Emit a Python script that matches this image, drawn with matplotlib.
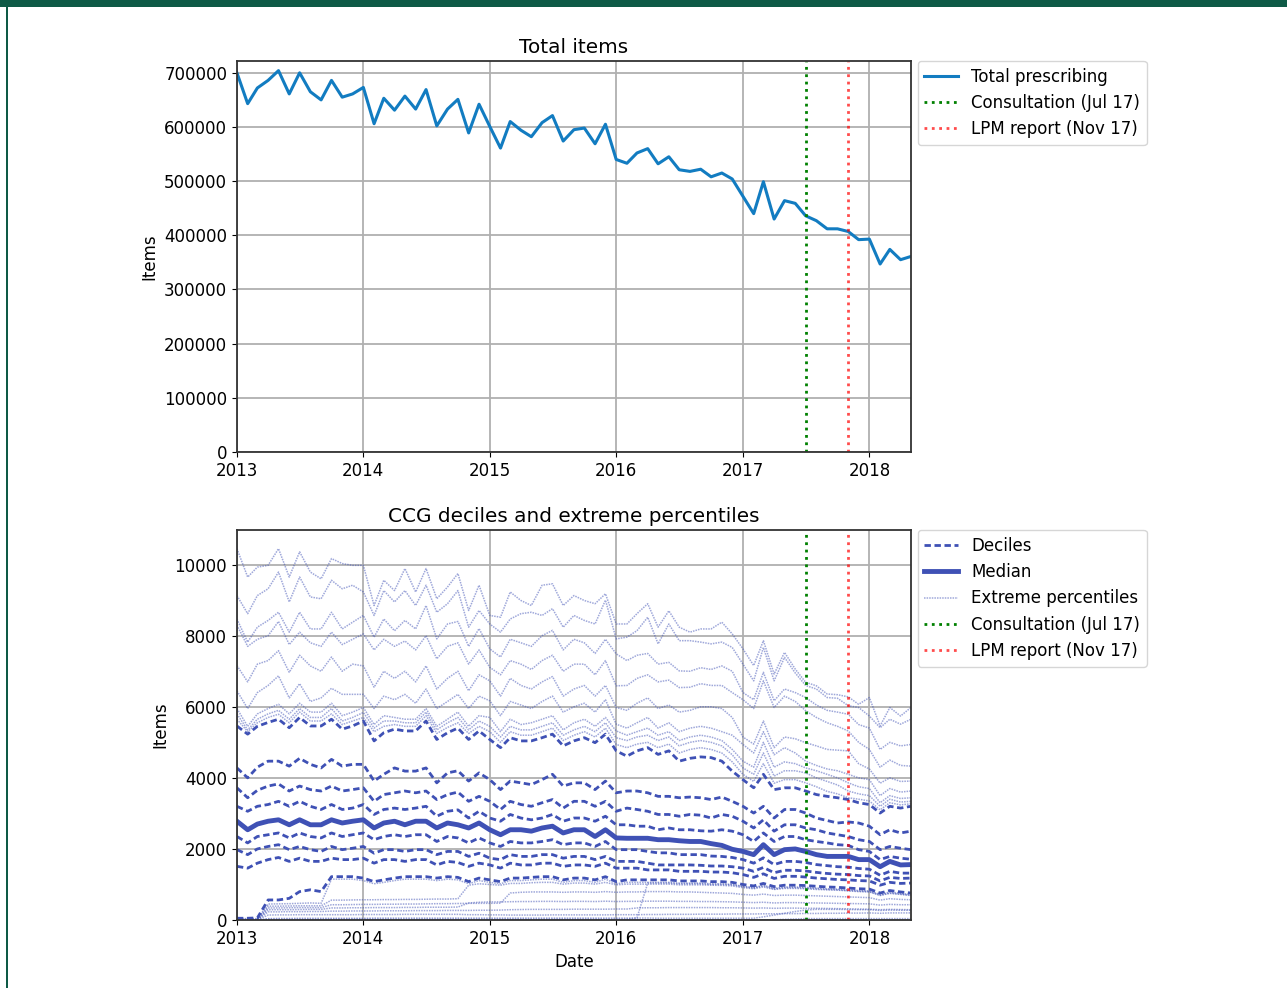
import matplotlib
matplotlib.use('Agg')
import matplotlib.pyplot as plt
import matplotlib.dates as mdates
from matplotlib.patches import Rectangle
from matplotlib.ticker import MultipleLocator
import pandas as pd

# monthly data, Jan 2013 - May 2018
months = pd.date_range('2013-01-01', periods=65, freq='MS')
consultation = pd.Timestamp('2017-07-01')
lpm_report = pd.Timestamp('2017-11-01')

total_items = [
    700000, 643000, 672000, 686000, 704000, 661000, 700000, 665000, 650000, 686000, 655000, 661000,
    673000, 606000, 653000, 631000, 657000, 633000, 669000, 602000, 633000, 651000, 589000, 642000,
    601000, 561000, 610000, 594000, 582000, 608000, 621000, 574000, 595000, 598000, 569000, 605000,
    540000, 533000, 552000, 560000, 532000, 545000, 521000, 518000, 522000, 508000, 515000, 504000,
    472000, 440000, 499000, 430000, 464000, 459000, 436000, 427000, 412000, 412000, 407000, 392000,
    393000, 347000, 374000, 355000, 361000]

# CCG percentiles (items per CCG)
p1 = [
    0, 0, 0, 0, 0, 0, 0, 0, 0, 0, 0, 0,
    0, 0, 0, 0, 0, 0, 0, 0, 0, 0, 0, 0,
    0, 0, 0, 0, 0, 0, 0, 0, 0, 0, 0, 0,
    0, 0, 0, 0, 0, 0, 0, 0, 0, 0, 0, 0,
    0, 0, 0, 10, 20, 30, 40, 40, 40, 40, 40, 40,
    40, 40, 40, 40, 40]
p2 = [
    0, 0, 0, 20, 20, 20, 20, 20, 20, 25, 25, 25,
    25, 25, 25, 25, 25, 25, 25, 25, 25, 25, 25, 25,
    25, 25, 25, 25, 25, 25, 25, 25, 25, 25, 25, 25,
    25, 25, 60, 1040, 1040, 1040, 1020, 1020, 1020, 1000, 1000, 990,
    940, 900, 960, 870, 910, 910, 900, 880, 860, 850, 830, 810,
    800, 700, 760, 730, 700]
p3 = [
    0, 0, 0, 40, 45, 45, 50, 50, 50, 50, 50, 50,
    50, 55, 55, 55, 55, 55, 55, 55, 55, 55, 55, 55,
    55, 55, 55, 55, 55, 55, 55, 55, 55, 55, 55, 55,
    55, 55, 55, 55, 50, 50, 50, 50, 50, 50, 50, 50,
    50, 50, 90, 140, 190, 240, 280, 300, 300, 300, 295, 290,
    290, 270, 280, 275, 275]
p4 = [
    0, 0, 0, 140, 145, 145, 150, 150, 150, 150, 150, 150,
    155, 155, 155, 155, 160, 160, 160, 160, 160, 160, 150, 150,
    145, 145, 140, 140, 140, 140, 145, 145, 145, 145, 145, 145,
    150, 150, 150, 155, 155, 160, 160, 160, 165, 165, 165, 170,
    170, 170, 175, 175, 180, 180, 185, 185, 190, 190, 195, 195,
    200, 190, 200, 200, 200]
p5 = [
    0, 0, 0, 230, 230, 235, 235, 240, 240, 250, 250, 255,
    255, 255, 260, 260, 260, 265, 265, 265, 270, 270, 270, 275,
    275, 280, 290, 295, 300, 300, 300, 300, 305, 305, 305, 305,
    310, 310, 340, 345, 345, 350, 350, 350, 350, 350, 345, 345,
    340, 335, 340, 330, 335, 335, 330, 330, 325, 320, 315, 310,
    305, 290, 300, 295, 290]
p6 = [
    0, 0, 0, 290, 290, 290, 295, 300, 300, 340, 340, 345,
    345, 350, 350, 350, 355, 355, 360, 360, 360, 365, 480, 500,
    510, 510, 515, 520, 520, 525, 525, 520, 525, 525, 520, 530,
    520, 525, 525, 530, 530, 530, 525, 525, 520, 520, 515, 510,
    500, 490, 500, 480, 490, 490, 485, 480, 475, 470, 465, 460,
    455, 420, 440, 430, 430]
p7 = [
    10, 10, 10, 340, 340, 345, 350, 350, 350, 430, 430, 435,
    440, 440, 445, 445, 450, 450, 455, 460, 460, 465, 470, 470,
    470, 475, 760, 780, 790, 790, 790, 780, 790, 790, 780, 800,
    780, 790, 790, 800, 800, 800, 790, 790, 780, 770, 760, 750,
    720, 700, 730, 690, 700, 700, 690, 680, 670, 660, 650, 640,
    630, 560, 600, 580, 570]
p8 = [
    20, 20, 20, 390, 390, 395, 400, 400, 400, 560, 560, 565,
    570, 570, 575, 575, 580, 580, 585, 590, 590, 600, 980, 1020,
    1000, 980, 1030, 1030, 1050, 1060, 1060, 1010, 1040, 1040, 1010, 1060,
    990, 1010, 1010, 1010, 1010, 1010, 990, 990, 990, 980, 975, 960,
    910, 880, 930, 860, 890, 890, 880, 860, 850, 840, 820, 800,
    790, 690, 750, 720, 690]
p9 = [
    40, 40, 40, 450, 455, 460, 470, 480, 470, 1150, 1150, 1150,
    1110, 1020, 1060, 1110, 1150, 1150, 1150, 1110, 1150, 1130, 1020, 1110,
    1060, 1020, 1110, 1110, 1130, 1150, 1150, 1060, 1110, 1110, 1060, 1150,
    1020, 1060, 1060, 1060, 1060, 1060, 1040, 1040, 1040, 1020, 1020, 1000,
    950, 910, 980, 890, 930, 930, 920, 900, 880, 870, 850, 830,
    820, 720, 790, 750, 720]
p10 = [
    50, 50, 60, 565, 565, 610, 800, 850, 800, 1220, 1220, 1220,
    1180, 1080, 1130, 1180, 1220, 1220, 1220, 1180, 1220, 1200, 1080, 1180,
    1130, 1080, 1180, 1180, 1200, 1220, 1220, 1130, 1180, 1180, 1130, 1220,
    1080, 1130, 1130, 1130, 1130, 1130, 1100, 1100, 1100, 1080, 1080, 1060,
    1000, 960, 1030, 940, 980, 980, 970, 950, 930, 920, 900, 880,
    870, 760, 830, 790, 760]
p20 = [
    1510, 1460, 1600, 1700, 1760, 1650, 1740, 1650, 1650, 1740, 1700, 1700,
    1740, 1600, 1700, 1700, 1650, 1700, 1700, 1550, 1650, 1620, 1510, 1600,
    1550, 1460, 1600, 1550, 1550, 1600, 1600, 1510, 1550, 1550, 1510, 1600,
    1460, 1460, 1460, 1410, 1410, 1410, 1370, 1370, 1370, 1350, 1350, 1330,
    1280, 1200, 1300, 1170, 1230, 1230, 1210, 1180, 1160, 1140, 1130, 1110,
    1100, 980, 1060, 1030, 1040]
p30 = [
    1980, 1840, 2000, 2070, 2120, 1980, 2070, 1980, 1930, 2070, 1980, 2020,
    2070, 1880, 1980, 1980, 1930, 1980, 1980, 1840, 1930, 1930, 1790, 1880,
    1740, 1700, 1840, 1790, 1790, 1840, 1840, 1740, 1790, 1790, 1700, 1790,
    1650, 1650, 1650, 1600, 1550, 1550, 1550, 1550, 1540, 1520, 1520, 1500,
    1460, 1370, 1480, 1330, 1400, 1400, 1380, 1340, 1310, 1290, 1280, 1250,
    1240, 1100, 1200, 1170, 1180]
p40 = [
    2350, 2170, 2350, 2400, 2450, 2310, 2450, 2350, 2310, 2450, 2350, 2400,
    2450, 2260, 2350, 2400, 2350, 2400, 2400, 2210, 2350, 2310, 2170, 2310,
    2170, 2070, 2210, 2170, 2170, 2210, 2260, 2120, 2170, 2170, 2070, 2210,
    1980, 1980, 1980, 1930, 1890, 1890, 1840, 1840, 1840, 1800, 1790, 1760,
    1700, 1600, 1750, 1560, 1650, 1650, 1620, 1560, 1530, 1500, 1490, 1450,
    1430, 1260, 1370, 1320, 1320]
median = [
    2780, 2540, 2700, 2780, 2820, 2680, 2820, 2680, 2680, 2820, 2730, 2780,
    2820, 2590, 2730, 2780, 2680, 2780, 2780, 2590, 2730, 2680, 2590, 2730,
    2540, 2400, 2540, 2540, 2500, 2590, 2640, 2450, 2540, 2540, 2350, 2540,
    2310, 2300, 2300, 2300, 2260, 2260, 2230, 2210, 2210, 2150, 2100, 1990,
    1930, 1840, 2120, 1840, 1980, 2000, 1930, 1840, 1790, 1790, 1790, 1700,
    1700, 1500, 1650, 1550, 1560]
p60 = [
    3200, 3060, 3200, 3250, 3340, 3200, 3340, 3200, 3110, 3250, 3110, 3150,
    3250, 2970, 3110, 3150, 3110, 3150, 3200, 2920, 3060, 3100, 2870, 3060,
    2870, 2780, 2970, 2870, 2820, 2870, 2970, 2780, 2870, 2870, 2780, 2920,
    2680, 2680, 2640, 2640, 2540, 2590, 2540, 2540, 2510, 2500, 2540, 2500,
    2400, 2210, 2450, 2210, 2350, 2350, 2260, 2210, 2170, 2120, 2100, 1980,
    1930, 1700, 1790, 1740, 1710]
p70 = [
    3720, 3440, 3650, 3770, 3830, 3630, 3770, 3670, 3630, 3770, 3630, 3670,
    3720, 3340, 3530, 3580, 3630, 3580, 3630, 3390, 3530, 3600, 3340, 3480,
    3340, 3110, 3340, 3250, 3200, 3300, 3390, 3150, 3340, 3340, 3200, 3340,
    3060, 3150, 3110, 3060, 2970, 2970, 2920, 2970, 2950, 2870, 2970, 2920,
    2780, 2590, 2820, 2500, 2680, 2680, 2590, 2540, 2450, 2400, 2350, 2260,
    2210, 1980, 2070, 2020, 1980]
p80 = [
    4280, 4000, 4300, 4470, 4470, 4330, 4550, 4380, 4280, 4520, 4330, 4380,
    4380, 3910, 4100, 4280, 4190, 4190, 4280, 3860, 4140, 4200, 3910, 4140,
    3950, 3670, 3910, 3860, 3810, 3950, 4100, 3770, 3860, 3860, 3670, 3910,
    3580, 3630, 3630, 3580, 3480, 3480, 3440, 3460, 3440, 3390, 3460, 3340,
    3200, 3010, 3200, 2870, 3110, 3110, 3010, 2870, 2800, 2730, 2760, 2730,
    2640, 2400, 2540, 2450, 2500]
p90 = [
    5460, 5230, 5450, 5560, 5650, 5410, 5700, 5460, 5460, 5650, 5370, 5460,
    5600, 5040, 5270, 5370, 5320, 5320, 5600, 5080, 5270, 5400, 5080, 5320,
    5080, 4850, 5130, 5040, 5040, 5130, 5230, 4900, 5040, 5130, 4990, 5230,
    4760, 4610, 4760, 4850, 4660, 4760, 4470, 4550, 4590, 4570, 4470, 4190,
    3950, 3720, 4100, 3670, 3720, 3720, 3630, 3530, 3480, 3440, 3390, 3300,
    3250, 3010, 3200, 3150, 3200]
p91 = [
    5650, 5300, 5550, 5700, 5790, 5550, 5850, 5600, 5600, 5800, 5500, 5600,
    5700, 5300, 5450, 5500, 5450, 5450, 5750, 5250, 5420, 5550, 5250, 5450,
    5300, 5000, 5300, 5200, 5200, 5300, 5400, 5050, 5200, 5300, 5150, 5400,
    4940, 4850, 4950, 5000, 4850, 4950, 4700, 4800, 4850, 4800, 4700, 4450,
    4100, 3900, 4400, 3850, 3950, 3950, 3860, 3750, 3620, 3550, 3440, 3400,
    3350, 3100, 3300, 3240, 3270]
p92 = [
    5800, 5350, 5650, 5800, 5900, 5650, 5950, 5700, 5700, 5950, 5600, 5700,
    5840, 5400, 5600, 5600, 5550, 5550, 5850, 5350, 5550, 5700, 5350, 5600,
    5450, 5150, 5450, 5350, 5350, 5450, 5550, 5200, 5350, 5450, 5300, 5550,
    5130, 5050, 5150, 5200, 5050, 5150, 4900, 5000, 5050, 5000, 4900, 4650,
    4280, 4100, 4700, 4050, 4200, 4200, 4140, 4000, 3900, 3800, 3630, 3550,
    3500, 3200, 3400, 3320, 3340]
p93 = [
    5950, 5450, 5800, 5950, 6070, 5800, 6100, 5850, 5850, 6100, 5750, 5850,
    5980, 5500, 5750, 5700, 5650, 5650, 5950, 5450, 5650, 5850, 5450, 5750,
    5700, 5300, 5650, 5500, 5550, 5650, 5750, 5350, 5550, 5650, 5450, 5700,
    5320, 5200, 5300, 5400, 5200, 5300, 5050, 5150, 5200, 5150, 5050, 4800,
    4470, 4300, 5000, 4300, 4450, 4400, 4280, 4200, 4100, 4000, 3860, 3750,
    3700, 3300, 3500, 3420, 3440]
p94 = [
    6450, 5950, 6400, 6600, 6870, 6250, 6650, 6150, 6250, 6520, 6350, 6350,
    6350, 5950, 6300, 6200, 6350, 6100, 6500, 5950, 6150, 6350, 5950, 6300,
    6170, 5750, 6150, 6050, 5950, 6150, 6300, 5850, 6000, 6100, 5850, 6200,
    5510, 5400, 5550, 5700, 5400, 5550, 5300, 5400, 5450, 5400, 5300, 5200,
    4940, 4700, 5300, 4650, 4850, 4700, 4470, 4350, 4250, 4200, 4100, 4000,
    3950, 3500, 3700, 3600, 3630]
p95 = [
    7160, 6700, 7200, 7300, 7580, 6970, 7450, 7150, 7000, 7400, 7000, 7200,
    7150, 6550, 7000, 6800, 7000, 6700, 7150, 6500, 6800, 7000, 6450, 6900,
    6730, 6300, 6800, 6600, 6500, 6700, 6850, 6300, 6500, 6600, 6300, 6600,
    5980, 5900, 6100, 6250, 5950, 6050, 5850, 5900, 6000, 6000, 5950, 5700,
    5150, 4950, 5600, 4850, 5150, 5100, 4990, 4900, 4800, 4780, 4760, 4400,
    4250, 3850, 4000, 3900, 3910]
p96 = [
    8300, 7700, 7900, 8000, 8400, 7750, 8100, 7800, 7700, 8100, 7750, 7900,
    8050, 7600, 7900, 7700, 7850, 7600, 8000, 7350, 7700, 7800, 7200, 7600,
    7110, 6900, 7300, 7200, 7050, 7300, 7450, 7000, 7200, 7200, 6900, 7300,
    6590, 6600, 6800, 6900, 6700, 6750, 6540, 6550, 6650, 6600, 6600, 6400,
    6200, 5950, 6730, 5980, 6300, 6150, 5890, 5700, 5550, 5450, 5320, 5000,
    4800, 4300, 4500, 4350, 4330]
p97 = [
    8470, 7820, 8240, 8430, 8660, 8100, 8660, 8190, 8190, 8660, 8190, 8380,
    8570, 7960, 8470, 8140, 8430, 8190, 8850, 7910, 8330, 8400, 7700, 8200,
    7630, 7400, 7900, 7800, 7700, 8000, 8150, 7600, 7900, 7800, 7500, 7900,
    7490, 7300, 7450, 7500, 7200, 7250, 7010, 7000, 7100, 7050, 7150, 7000,
    6400, 6200, 6970, 6170, 6500, 6400, 6260, 6050, 5900, 5850, 5790, 5500,
    5400, 4800, 5000, 4900, 4940]
p98 = [
    9130, 8620, 9130, 9320, 9790, 8950, 9650, 9090, 9040, 9560, 9320, 9420,
    9230, 8570, 9270, 8950, 9270, 8850, 9420, 8660, 8900, 9270, 8240, 8710,
    8330, 8100, 8470, 8620, 8660, 8570, 8760, 8240, 8570, 8430, 8330, 9000,
    7910, 7960, 8140, 8520, 7770, 8330, 7860, 7860, 7820, 7770, 7820, 7670,
    7200, 6730, 7670, 6730, 7390, 6950, 6600, 6500, 6260, 6240, 6030, 5980,
    5740, 5410, 5650, 5510, 5650]
p99 = [
    10450, 9650, 9930, 9980, 10450, 9650, 10360, 9790, 9600, 10170, 10030, 9980,
    9980, 8850, 9560, 9270, 9890, 9230, 9890, 9040, 9370, 9750, 8710, 9420,
    8570, 8520, 9230, 8990, 8850, 9420, 9460, 8850, 9130, 8990, 8900, 9180,
    8330, 8330, 8620, 8900, 8240, 8700, 8240, 8100, 8190, 8190, 8380, 8050,
    7630, 7160, 7860, 6920, 7530, 7060, 6690, 6590, 6360, 6340, 6280, 6070,
    6260, 5460, 5980, 5740, 5980]

deciles = [p10, p20, p30, p40, p60, p70, p80, p90]
extremes = [p1, p2, p3, p4, p5, p6, p7, p8, p9, p91, p92, p93, p94, p95, p96, p97, p98, p99]
for s in [total_items, median] + deciles + extremes:
    assert len(s) == len(months), len(s)

line_blue = '#127cc1'
ccg_blue = '#3f51b5'

plt.rcParams['font.size'] = 12

fig = plt.figure(figsize=(12.87, 9.88), dpi=100)
# green page frame
fig.add_artist(Rectangle((0, 1 - 7 / 988), 1, 7 / 988, transform=fig.transFigure,
                         facecolor='#0e5a46', edgecolor='none'))
fig.add_artist(Rectangle((6 / 1287, 0), 2 / 1287, 1, transform=fig.transFigure,
                         facecolor='#0e5a46', edgecolor='none'))

ax1 = fig.add_axes([0.1841, 0.5425, 0.5237, 0.3958])
ax2 = fig.add_axes([0.1841, 0.0688, 0.5237, 0.3947])

# top: total items
ax1.plot(months, total_items, color=line_blue, lw=2.2, label='Total prescribing')
ax1.axvline(consultation, color='green', ls=':', lw=2, label='Consultation (Jul 17)')
ax1.axvline(lpm_report, color='red', ls=':', lw=2, alpha=0.7, label='LPM report (Nov 17)')
ax1.set_ylim(bottom=0)
ax1.yaxis.set_major_locator(MultipleLocator(100000))
ax1.set_title('Total items', fontsize=14.4)
ax1.set_ylabel('Items')

# bottom: CCG deciles and extremes
for k, s in enumerate(extremes):
    ax2.plot(months, s, color=ccg_blue, ls=(0, (1, 0.7)), lw=1.1, alpha=0.5,
             label='Extreme percentiles' if k == 0 else None)
for k, s in enumerate(deciles):
    ax2.plot(months, s, color=ccg_blue, ls=(0, (2.3, 1.3)), lw=2,
             label='Deciles' if k == 0 else None)
ax2.plot(months, median, color=ccg_blue, ls='-', lw=3.5, label='Median')
ax2.axvline(consultation, color='green', ls=':', lw=2, label='Consultation (Jul 17)')
ax2.axvline(lpm_report, color='red', ls=':', lw=2, alpha=0.7, label='LPM report (Nov 17)')
ax2.set_ylim(bottom=0)
ax2.yaxis.set_major_locator(MultipleLocator(2000))
ax2.set_title('CCG deciles and extreme percentiles', fontsize=14.4)
ax2.set_ylabel('Items')
ax2.set_xlabel('Date')

for ax in (ax1, ax2):
    ax.set_xlim(months[0], months[-1])
    ax.xaxis.set_major_locator(mdates.YearLocator())
    ax.xaxis.set_major_formatter(mdates.DateFormatter('%Y'))
    ax.grid(True, color='#b0b0b0', lw=1.3)
    ax.set_axisbelow(True)
    for sp in ax.spines.values():
        sp.set_linewidth(1.3)
        sp.set_color('#333333')

ax1.legend(loc='upper left', bbox_to_anchor=(1.01, 1.0), borderaxespad=0)
h, l = ax2.get_legend_handles_labels()
order = [l.index(n) for n in ['Deciles', 'Median', 'Extreme percentiles',
                               'Consultation (Jul 17)', 'LPM report (Nov 17)']]
ax2.legend([h[i] for i in order], [l[i] for i in order],
           loc='upper left', bbox_to_anchor=(1.01, 1.0), borderaxespad=0)

fig.savefig('out.png', dpi=100)
